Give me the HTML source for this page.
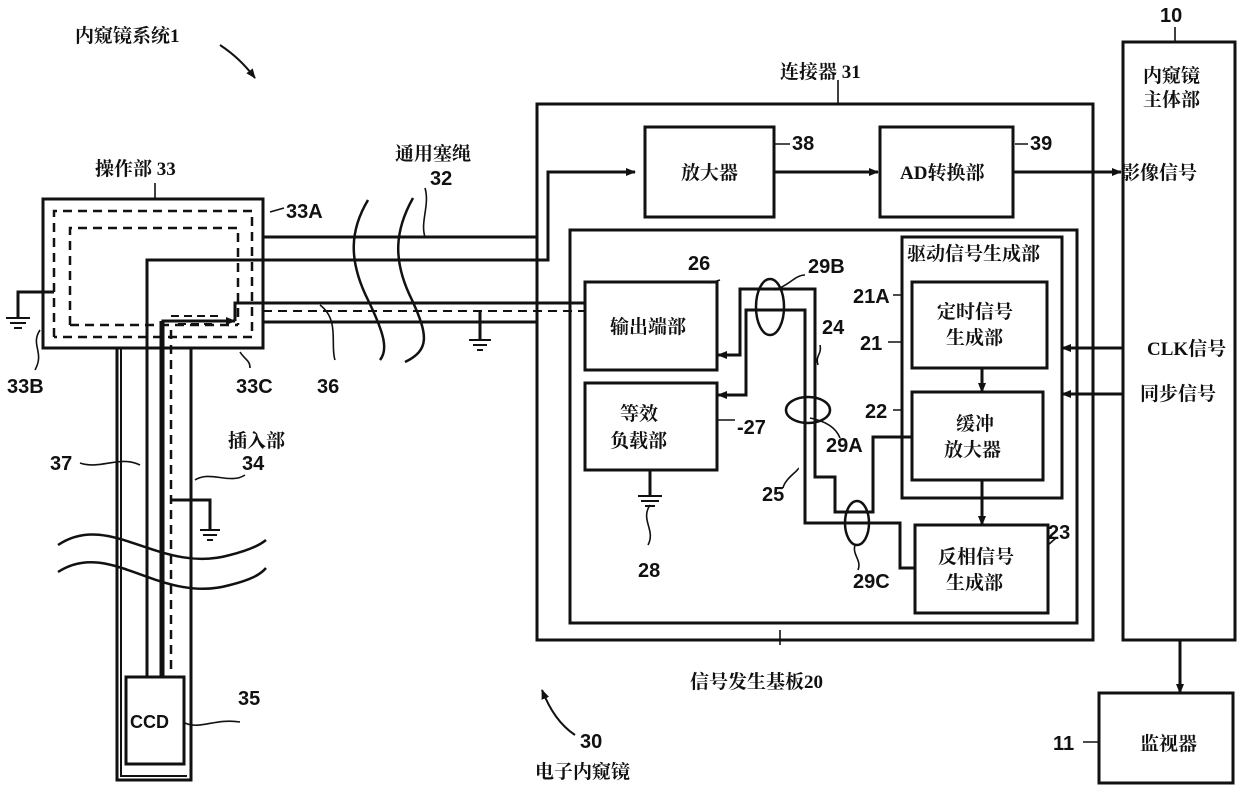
<!DOCTYPE html>
<html><head><meta charset="utf-8"><style>
html,body{margin:0;padding:0;background:#fff}
svg{display:block}
.c{font-family:"Liberation Serif","Noto Serif CJK SC","Noto Sans CJK SC",serif;font-size:19px;fill:#111;font-weight:bold}
.n{font-family:"Liberation Sans",sans-serif;font-size:20px;font-weight:bold;fill:#111}
</style></head><body>
<svg width="1240" height="802" viewBox="0 0 1240 802" xmlns="http://www.w3.org/2000/svg">
<defs><marker id="a" markerWidth="10" markerHeight="10" refX="9" refY="5" orient="auto" markerUnits="userSpaceOnUse"><path d="M0,1 L10,5 L0,9 Z" fill="#111"/></marker></defs>
<g fill="none" stroke="#111" stroke-width="3">
<rect x="43" y="199" width="220" height="149"/>
<path d="M54,337 V211 H252 V337 H54" stroke-dasharray="9,6" stroke-width="2.5"/>
<path d="M70,325 V228 H238 V325" stroke-dasharray="9,6" stroke-width="2.5"/>
<path d="M70,325 H238" stroke-dasharray="9,6" stroke-width="2.5"/>
<path d="M54,292 H18 V318"/>
<path d="M6,318 H30 M10,323 H26 M14,328 H22" stroke-width="2"/>
<path d="M263,237 H537"/>
<path d="M147,677 V260 H548 V172 H635" marker-end="url(#a)"/>
<path d="M235,321 V303 H585"/>
<path d="M263,322 H537"/>
<path d="M263,311 H585" stroke-dasharray="9,6" stroke-width="2"/>
<path d="M163,677 V321 H235" marker-end="url(#a)"/>
<path d="M171,316 H222 M178,324 H215" stroke-dasharray="8,5" stroke-width="2"/>
<path d="M480,311 V340"/>
<path d="M469,340 H491 M473,345 H487 M477,350 H483" stroke-width="2"/>
<path d="M117,348 V780 H191 V348"/>
<path d="M121,348 V776 H187" stroke-width="2"/>
<path d="M161,321 V677"/>
<path d="M171,330 V670" stroke-dasharray="9,6" stroke-width="2.5"/>
<path d="M171,500 H210 V530"/>
<path d="M200,530 H220 M203,535 H217 M207,540 H213" stroke-width="2"/>
<rect x="126" y="677" width="58" height="87"/>
<path d="M368,200 C350,230 348,260 368,300 C385,335 388,350 380,360" stroke-width="2.5"/>
<path d="M413,198 C395,230 392,260 412,300 C428,335 430,350 405,362" stroke-width="2.5"/>
<path d="M58,545 C110,510 160,575 230,555 C250,550 260,545 266,540" stroke-width="2.5"/>
<path d="M58,572 C110,538 160,605 230,585 C250,580 260,575 266,568" stroke-width="2.5"/>
<rect x="537" y="104" width="556" height="536"/>
<rect x="645" y="127" width="129" height="90"/>
<rect x="880" y="127" width="133" height="90"/>
<path d="M774,172 H878" marker-end="url(#a)"/>
<path d="M1013,172 H1121" marker-end="url(#a)"/>
<rect x="570" y="230" width="507" height="393"/>
<rect x="585" y="282" width="132" height="88"/>
<rect x="585" y="383" width="132" height="87"/>
<path d="M650,470 V496"/>
<path d="M638,496 H662 M641,501 H659 M645,506 H655" stroke-width="2"/>
<rect x="902" y="237" width="160" height="261"/>
<rect x="912" y="282" width="135" height="86"/>
<rect x="912" y="392" width="131" height="88"/>
<rect x="915" y="525" width="133" height="88"/>
<path d="M982,368 V392" marker-end="url(#a)"/>
<path d="M982,480 V525" marker-end="url(#a)"/>
<path d="M1123,348 H1062" marker-end="url(#a)"/>
<path d="M1123,394 H1062" marker-end="url(#a)"/>
<path d="M912,437 H873 V512 H835 V477 H815 V289 H740 V355 H718" marker-end="url(#a)"/>
<path d="M915,568 H900 V523 H805 V310 H746 V395 H718" marker-end="url(#a)"/>
<ellipse cx="770" cy="307" rx="14" ry="28" stroke-width="2.5"/>
<ellipse cx="808" cy="410" rx="22" ry="13" stroke-width="2.5"/>
<ellipse cx="857" cy="523" rx="12" ry="22" stroke-width="2.5"/>
<rect x="1123" y="42" width="112" height="598"/>
<path d="M1180,640 V693" marker-end="url(#a)"/>
<rect x="1099" y="693" width="134" height="90"/>
<path d="M220,45 C235,55 245,65 255,78" stroke-width="2" marker-end="url(#a)"/>
<path d="M575,735 C560,725 550,710 542,690" stroke-width="2" marker-end="url(#a)"/>
<g stroke-width="1.6">
<path d="M155,183 V199 M270,212 L284,208 M40,330 C30,345 45,352 35,370 M240,352 C245,360 250,360 250,368 M320,305 C340,320 330,345 335,360 M80,463 C100,470 120,455 140,465 M195,480 C210,470 230,485 245,475 M185,723 C200,730 215,718 240,722 M425,188 C430,205 420,222 425,237 M838,80 V104 M775,144 H790 M1015,144 H1028 M720,280 L710,283 M775,290 C790,285 795,275 805,275 M718,420 H735 M820,345 C822,355 815,355 818,365 M810,418 C820,420 835,425 840,438 M798,468 C800,470 785,478 783,488 M855,545 C852,555 862,560 858,570 M893,295 H902 M888,342 H902 M893,410 H902 M1048,545 L1056,538 M650,505 C640,520 656,530 648,545 M1175,27 V42 M1083,742 H1099 M780,630 V645"/>
</g>
</g>
<text class="c" x="75" y="42">内窥镜系统1</text>
<text class="c" x="95" y="175">操作部 33</text>
<text class="c" x="395" y="160">通用塞绳</text>
<text class="n" x="430" y="185">32</text>
<text class="c" x="780" y="78">连接器 31</text>
<text class="n" x="1160" y="22">10</text>
<text class="c" x="1143" y="82">内窥镜</text>
<text class="c" x="1143" y="106">主体部</text>
<text class="c" x="681" y="179">放大器</text>
<text class="c" x="900" y="179">AD转换部</text>
<text class="n" x="792" y="150">38</text>
<text class="n" x="1030" y="150">39</text>
<text class="c" x="1121" y="179">影像信号</text>
<text class="n" x="286" y="218">33A</text>
<text class="n" x="7" y="393">33B</text>
<text class="n" x="236" y="393">33C</text>
<text class="n" x="317" y="393">36</text>
<text class="n" x="50" y="470">37</text>
<text class="c" x="228" y="447">插入部</text>
<text class="n" x="242" y="470">34</text>
<text class="n" x="130" y="728" style="font-size:18px">CCD</text>
<text class="n" x="238" y="705">35</text>
<text class="n" x="688" y="270">26</text>
<text class="c" x="610" y="333">输出端部</text>
<text class="c" x="620" y="420">等效</text>
<text class="c" x="610" y="447">负载部</text>
<text class="n" x="737" y="434">-27</text>
<text class="n" x="638" y="577">28</text>
<text class="n" x="808" y="273">29B</text>
<text class="n" x="822" y="334">24</text>
<text class="n" x="826" y="452">29A</text>
<text class="n" x="762" y="501">25</text>
<text class="n" x="853" y="588">29C</text>
<text class="c" x="907" y="260">驱动信号生成部</text>
<text class="n" x="853" y="303">21A</text>
<text class="n" x="860" y="350">21</text>
<text class="n" x="865" y="418">22</text>
<text class="c" x="937" y="318">定时信号</text>
<text class="c" x="946" y="344">生成部</text>
<text class="c" x="956" y="430">缓冲</text>
<text class="c" x="944" y="456">放大器</text>
<text class="n" x="1048" y="539">23</text>
<text class="c" x="938" y="563">反相信号</text>
<text class="c" x="946" y="589">生成部</text>
<text class="c" x="1147" y="355">CLK信号</text>
<text class="c" x="1140" y="400">同步信号</text>
<text class="c" x="690" y="688">信号发生基板20</text>
<text class="n" x="580" y="748">30</text>
<text class="c" x="535" y="778">电子内窥镜</text>
<text class="n" x="1053" y="750">11</text>
<text class="c" x="1140" y="750">监视器</text>
</svg>
</body></html>
